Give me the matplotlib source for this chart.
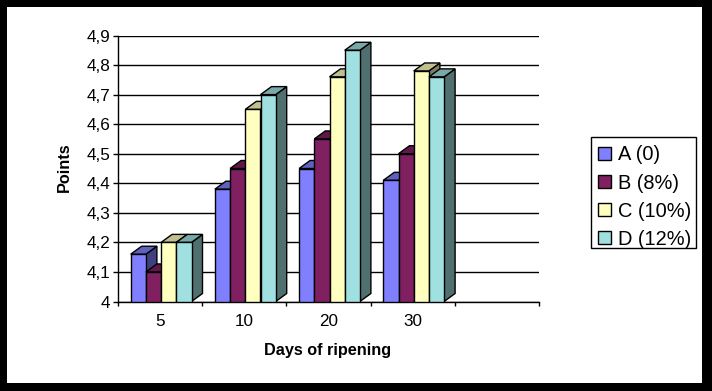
import matplotlib
matplotlib.use("Agg")
import matplotlib.pyplot as plt
from matplotlib.patches import Polygon, Patch, Rectangle
from matplotlib.colors import to_rgb

plt.rcParams['font.family'] = ['Liberation Sans', 'DejaVu Sans']

categories = ['5', '10', '20', '30', '']
series_names = ['A (0)', 'B (8%)', 'C (10%)', 'D (12%)']
series_a = [4.16, 4.38, 4.45, 4.41]
series_b = [4.10, 4.45, 4.55, 4.50]
series_c = [4.20, 4.65, 4.76, 4.78]
series_d = [4.20, 4.70, 4.85, 4.76]
colors = ['#8080FF', '#802060', '#FFFFC0', '#A0E0E0']
yticks = [4, 4.1, 4.2, 4.3, 4.4, 4.5, 4.6, 4.7, 4.8, 4.9]
ylabels = ['4', '4,1', '4,2', '4,3', '4,4', '4,5', '4,6', '4,7', '4,8', '4,9']

W, H = 712, 391
fig = plt.figure(figsize=(W/100, H/100), dpi=100, facecolor='black')
fig.add_artist(Rectangle((7/W, 1-383/H), (702-7)/W, (383-7)/H, transform=fig.transFigure,
                         facecolor='white', edgecolor='none', zorder=-5))
L, R, T, B = 118, 539, 35.5, 301.5
ax = fig.add_axes([L/W, 1-B/H, (R-L)/W, (B-T)/H])
ax.patch.set_alpha(0)
ax.set_xlim(0, 5)
ax.set_ylim(4, 4.9)
for s in ['top', 'right']:
    ax.spines[s].set_visible(False)
for s in ['left', 'bottom']:
    ax.spines[s].set_linewidth(1.0)
ax.set_yticks(yticks)
ax.set_yticklabels(ylabels, fontsize=12.3, color='black')
ax.set_xticks(range(6))
ax.set_xticklabels([])
for i, c in enumerate(categories):
    ax.text(i + .5, -0.076, c, transform=ax.get_xaxis_transform(), ha='center', va='center', fontsize=12.3)
ax.tick_params(axis='y', length=3.6, width=1, pad=2)
ax.tick_params(axis='x', length=3.2, width=1)
ax.grid(axis='y', color='black', lw=1.0, zorder=0)
ax.set_axisbelow(True)

# 3D depth expressed in data units
dx = 11 / ((R - L) / 5)
dy = 8 / ((B - T) / 0.9)
bw = 15.2 / ((R - L) / 5)
start = (130.7 - L) / ((R - L) / 5)
arrays = [series_a, series_b, series_c, series_d]

def shade(c, f):
    return tuple(v * f for v in to_rgb(c))

z = 3
for g in range(4):
    for k, vals in enumerate(arrays):
        x0 = g + start + k * bw
        x1 = x0 + bw
        v = vals[g]
        col = colors[k]
        ax.add_patch(Polygon([(x1, 4), (x1 + dx, 4 + dy), (x1 + dx, v + dy), (x1, v)], closed=True,
                             facecolor=shade(col, .5), edgecolor='black', lw=1, zorder=z, clip_on=False))
        ax.add_patch(Polygon([(x0, v), (x0 + dx, v + dy), (x1 + dx, v + dy), (x1, v)], closed=True,
                             facecolor=shade(col, .75), edgecolor='black', lw=1, zorder=z, clip_on=False))
        ax.bar(x0, v - 4, bw, bottom=4, align='edge', color=col, edgecolor='black', lw=1, zorder=z + .5)
        z += 1

fig.text(64/W, 1-167/H, 'Points', rotation=90, ha='center', va='center', fontsize=11.7, fontweight='bold')
fig.text(328/W, 1-350/H, 'Days of ripening', ha='center', va='center', fontsize=11.7, fontweight='bold')

# Legend frame is separate so the padding can differ top and bottom
fig.add_artist(Rectangle((591/W, 1-248/H), 105/W, 111/H, transform=fig.transFigure,
                         facecolor='white', edgecolor='black', lw=1, zorder=4))
handles = [Patch(facecolor=c, edgecolor='black', lw=1) for c in colors]
leg = fig.legend(handles, series_names, loc='upper left', bbox_to_anchor=(598/W, 1-145.5/H),
                 fontsize=14.4, frameon=False, borderpad=0, labelspacing=0.455,
                 handlelength=0.65, handleheight=0.6, handletextpad=0.35, borderaxespad=0)
leg.set_zorder(5)
fig.savefig('out.png', dpi=100, facecolor='black')
